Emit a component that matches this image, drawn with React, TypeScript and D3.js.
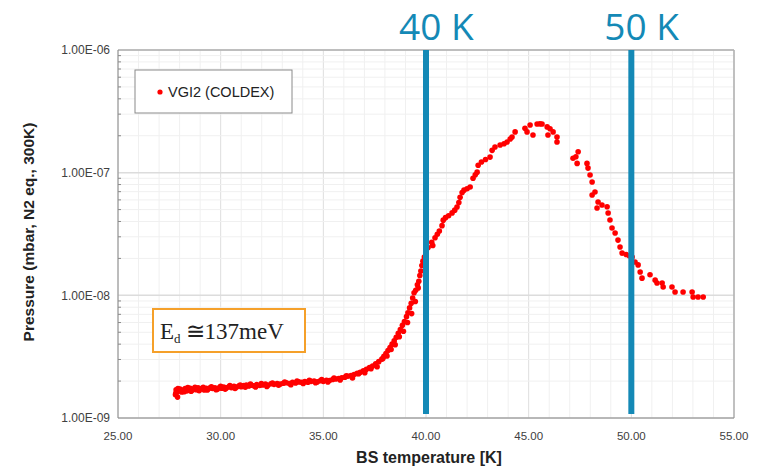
import React from "react";
import * as d3 from "d3";

// VGI2 (COLDEX) readings: beam-screen temperature [K] and pressure [mbar, N2 eq.]
const temperatureK: number[] = [
  27.80, 27.83, 27.86, 27.90, 27.95, 28.02, 28.10, 28.18, 28.27, 28.35,
  28.44, 28.52, 28.60, 28.70, 28.80, 28.90, 29.00, 29.10, 29.20, 29.30,
  29.40, 29.50, 29.60, 29.72, 29.85, 29.95, 30.05, 30.15, 30.28, 30.40,
  30.52, 30.65, 30.78, 30.90, 31.00, 31.12, 31.25, 31.38, 31.50, 31.62,
  31.75, 31.90, 32.05, 32.18, 32.30, 32.45, 32.60, 32.75, 32.90, 33.05,
  33.20, 33.35, 33.50, 33.65, 33.80, 33.95, 34.10, 34.25, 34.40, 34.55,
  34.70, 34.85, 35.00, 35.15, 35.30, 35.45, 35.60, 35.75, 35.90, 36.05,
  36.20, 36.35, 36.50, 36.65, 36.80, 36.95, 37.10, 37.25, 37.40, 37.55,
  37.70, 37.85, 37.95, 38.05, 38.15, 38.25, 38.35, 38.45, 38.55, 38.65,
  38.75, 38.85, 38.95, 39.05, 39.12, 39.20, 39.28, 39.35, 39.42, 39.50,
  39.58, 39.65, 39.70, 39.75, 39.80, 39.85, 39.92, 40.00, 40.10, 40.28,
  40.33, 40.44, 40.55, 40.65, 40.78, 40.84, 40.95, 41.10, 41.27, 41.40,
  41.51, 41.60, 41.66, 41.76, 41.85, 42.00, 42.15, 42.29, 42.40, 42.49,
  42.54, 42.70, 42.90, 43.12, 43.22, 43.36, 43.61, 43.80, 43.95, 44.10,
  44.19, 44.34, 44.82, 44.92, 45.07, 45.21, 45.41, 45.55, 45.65, 45.94,
  45.90, 46.04, 46.19, 46.38, 46.38, 47.16, 47.36, 47.41, 47.30, 47.84,
  47.89, 47.99, 48.09, 48.23, 48.09, 48.38, 48.57, 48.33, 48.82, 48.87,
  48.96, 49.06, 49.21, 49.35, 49.45, 49.55, 49.75, 49.90, 50.04, 50.18,
  50.33, 50.43, 50.52, 50.91, 51.16, 51.25, 51.50, 51.55, 51.98, 52.13,
  52.52, 52.96, 53.01, 53.25, 53.50,
  // second sweep through the low-temperature plateau and the rise
  27.82, 27.92, 28.06, 28.22, 28.40, 28.56, 28.75, 28.95, 29.15, 29.35,
  29.55, 29.78, 30.00, 30.22, 30.45, 30.70, 30.95, 31.20, 31.45, 31.70,
  31.98, 32.25, 32.52, 32.82, 33.12, 33.42, 33.72, 34.02, 34.32, 34.62,
  34.92, 35.22, 35.52, 35.82, 36.12, 36.42, 36.72, 37.02, 37.32, 37.62,
  37.90, 38.10, 38.30, 38.50, 38.70, 38.90, 39.10, 39.30, 39.48, 39.62,
];

const pressureMbar: number[] = [
  1.55e-9, 1.70e-9, 1.62e-9, 1.48e-9, 1.66e-9, 1.72e-9, 1.63e-9, 1.69e-9, 1.74e-9, 1.66e-9,
  1.71e-9, 1.75e-9, 1.68e-9, 1.73e-9, 1.70e-9, 1.76e-9, 1.72e-9, 1.74e-9, 1.69e-9, 1.75e-9,
  1.73e-9, 1.77e-9, 1.74e-9, 1.76e-9, 1.72e-9, 1.78e-9, 1.75e-9, 1.79e-9, 1.76e-9, 1.80e-9,
  1.77e-9, 1.81e-9, 1.79e-9, 1.83e-9, 1.80e-9, 1.84e-9, 1.86e-9, 1.82e-9, 1.85e-9, 1.83e-9,
  1.87e-9, 1.84e-9, 1.86e-9, 1.89e-9, 1.85e-9, 1.90e-9, 1.88e-9, 1.91e-9, 1.89e-9, 1.92e-9,
  1.94e-9, 1.91e-9, 1.95e-9, 1.93e-9, 1.97e-9, 1.95e-9, 1.98e-9, 1.96e-9, 1.99e-9, 2.00e-9,
  1.97e-9, 2.01e-9, 1.99e-9, 2.03e-9, 2.02e-9, 2.06e-9, 2.08e-9, 2.10e-9, 2.13e-9, 2.15e-9,
  2.19e-9, 2.22e-9, 2.26e-9, 2.31e-9, 2.36e-9, 2.42e-9, 2.50e-9, 2.58e-9, 2.65e-9, 2.76e-9,
  2.88e-9, 3.02e-9, 3.18e-9, 3.35e-9, 3.55e-9, 3.75e-9, 4.00e-9, 4.25e-9, 4.55e-9, 4.90e-9,
  5.25e-9, 5.70e-9, 6.10e-9, 6.70e-9, 7.20e-9, 7.90e-9, 8.60e-9, 9.50e-9, 1.05e-8, 1.10e-8,
  1.22e-8, 1.30e-8, 1.45e-8, 1.58e-8, 1.75e-8, 1.90e-8, 2.05e-8, 2.25e-8, 2.45e-8, 2.70e-8,
  2.55e-8, 2.95e-8, 3.15e-8, 3.35e-8, 3.70e-8, 4.10e-8, 4.30e-8, 4.45e-8, 4.70e-8, 4.95e-8,
  5.25e-8, 5.70e-8, 6.30e-8, 6.90e-8, 7.20e-8, 7.40e-8, 7.65e-8, 9.00e-8, 9.60e-8, 1.01e-7,
  1.15e-7, 1.22e-7, 1.28e-7, 1.34e-7, 1.52e-7, 1.62e-7, 1.68e-7, 1.72e-7, 1.78e-7, 1.88e-7,
  1.95e-7, 2.15e-7, 2.30e-7, 2.15e-7, 2.45e-7, 2.03e-7, 2.49e-7, 2.50e-7, 2.49e-7, 2.03e-7,
  2.36e-7, 2.28e-7, 2.15e-7, 1.95e-7, 1.78e-7, 1.31e-7, 1.19e-7, 1.48e-7, 1.35e-7, 1.19e-7,
  1.09e-7, 9.57e-8, 8.39e-8, 6.96e-8, 6.58e-8, 5.77e-8, 5.45e-8, 5.15e-8, 5.28e-8, 4.69e-8,
  4.11e-8, 3.54e-8, 3.22e-8, 2.82e-8, 2.48e-8, 2.21e-8, 2.15e-8, 2.10e-8, 2.05e-8, 1.87e-8,
  1.77e-8, 1.55e-8, 1.38e-8, 1.47e-8, 1.33e-8, 1.26e-8, 1.26e-8, 1.17e-8, 1.17e-8, 1.064e-8,
  1.064e-8, 1.064e-8, 9.69e-9, 9.69e-9, 9.69e-9,
  1.60e-9, 1.74e-9, 1.67e-9, 1.64e-9, 1.77e-9, 1.65e-9, 1.78e-9, 1.67e-9, 1.78e-9, 1.69e-9,
  1.80e-9, 1.70e-9, 1.81e-9, 1.72e-9, 1.84e-9, 1.74e-9, 1.86e-9, 1.78e-9, 1.89e-9, 1.79e-9,
  1.91e-9, 1.81e-9, 1.93e-9, 1.85e-9, 1.96e-9, 1.87e-9, 2.00e-9, 1.91e-9, 2.03e-9, 1.94e-9,
  2.06e-9, 1.97e-9, 2.12e-9, 2.04e-9, 2.21e-9, 2.12e-9, 2.30e-9, 2.34e-9, 2.52e-9, 2.62e-9,
  3.05e-9, 3.20e-9, 3.62e-9, 3.95e-9, 4.60e-9, 5.10e-9, 6.00e-9, 7.10e-9, 8.90e-9, 1.15e-8,
];

const xTicks: number[] = [25, 30, 35, 40, 45, 50, 55];
const yDecades: number[] = [1e-9, 1e-8, 1e-7, 1e-6];
const markerTemps: number[] = [40, 50];
const markerLabels: string[] = ["40 K", "50 K"];

const W = 758;
const H = 468;
const plot = { left: 118, right: 734, top: 50, bottom: 418 };
const BLUE = "#1489b6";
const SANS = "'Liberation Sans', Arial, sans-serif";

export default function App() {
  const x = d3.scaleLinear().domain([25, 55]).range([plot.left, plot.right]);
  const y = d3.scaleLog().domain([1e-9, 1e-6]).range([plot.bottom, plot.top]);

  const minorX = d3.range(25, 56, 1);
  const minorY: number[] = [];
  for (let e = -9; e < -6; e++) {
    for (let m = 2; m <= 9; m++) minorY.push(m * Math.pow(10, e));
  }

  return (
    <svg
      width={W}
      height={H}
      style={{ position: "absolute", left: 0, top: 0, background: "#fff" }}
    >
      {/* grid */}
      {minorX.map((t) => (
        <line
          key={"gx" + t}
          x1={x(t)}
          x2={x(t)}
          y1={plot.top}
          y2={plot.bottom}
          stroke={t % 5 === 0 ? "#dedede" : "#f0f0f0"}
          strokeWidth={1}
        />
      ))}
      {minorY.map((v, i) => (
        <line
          key={"gy" + i}
          x1={plot.left}
          x2={plot.right}
          y1={y(v)}
          y2={y(v)}
          stroke="#f0f0f0"
          strokeWidth={1}
        />
      ))}
      {yDecades.map((v) => (
        <line
          key={"gd" + v}
          x1={plot.left}
          x2={plot.right}
          y1={y(v)}
          y2={y(v)}
          stroke="#dcdcdc"
          strokeWidth={1.5}
        />
      ))}

      {/* frame */}
      <line x1={plot.left} x2={plot.right} y1={plot.top} y2={plot.top} stroke="#b0b0b0" strokeWidth={1.5} />
      <line x1={plot.right} x2={plot.right} y1={plot.top} y2={plot.bottom} stroke="#b0b0b0" strokeWidth={1.5} />
      <line x1={plot.left} x2={plot.left} y1={plot.top} y2={plot.bottom} stroke="#8a8a8a" strokeWidth={1} />
      <line x1={plot.left} x2={plot.right} y1={plot.bottom} y2={plot.bottom} stroke="#8a8a8a" strokeWidth={1} />
      {minorY.map((v, i) => (
        <line key={"ty" + i} x1={plot.left} x2={plot.left + 3} y1={y(v)} y2={y(v)} stroke="#8a8a8a" />
      ))}

      {/* tick labels */}
      {yDecades.map((v) => (
        <text
          key={"yl" + v}
          x={plot.left - 8}
          y={y(v)}
          dy="0.35em"
          textAnchor="end"
          fontFamily={SANS}
          fontSize={12}
          fill="#404040"
        >
          {v.toExponential(2).toUpperCase().replace("E-", "E-0")}
        </text>
      ))}
      {xTicks.map((t) => (
        <text
          key={"xl" + t}
          x={x(t)}
          y={plot.bottom + 22}
          textAnchor="middle"
          fontFamily={SANS}
          fontSize={11.5}
          fill="#404040"
        >
          {t.toFixed(2)}
        </text>
      ))}

      {/* axis titles */}
      <text
        x={(plot.left + plot.right) / 2 + 3}
        y={463}
        textAnchor="middle"
        fontFamily={SANS}
        fontWeight="bold"
        fontSize={16}
        fill="#222"
      >
        BS temperature [K]
      </text>
      <text
        transform={`translate(34, ${(plot.top + plot.bottom) / 2 - 2}) rotate(-90)`}
        textAnchor="middle"
        fontFamily={SANS}
        fontWeight="bold"
        fontSize={15.5}
        fill="#222"
      >
        Pressure (mbar, N2 eq., 300K)
      </text>

      {/* data */}
      {temperatureK.map((t, i) => (
        <circle key={"p" + i} cx={x(t)} cy={y(pressureMbar[i])} r={2.8} fill="#ff0000" />
      ))}

      {/* temperature markers */}
      {markerTemps.map((t, i) => (
        <g key={"m" + t}>
          <line x1={x(t)} x2={x(t)} y1={plot.top} y2={plot.bottom - 4} stroke={BLUE} strokeWidth={6} />
          <text
            x={x(t) - 27}
            y={40}
            fontFamily="'Open Sans', sans-serif"
            fontSize={37}
            fill={BLUE}
          >
            {markerLabels[i]}
          </text>
        </g>
      ))}

      {/* legend */}
      <rect x={135} y={70} width={157} height={43} fill="#fff" stroke="#8a8a8a" strokeWidth={1} />
      <circle cx={160} cy={92} r={2.6} fill="#ff0000" />
      <text x={168} y={97} fontFamily={SANS} fontSize={14.5} fill="#222">
        VGI2 (COLDEX)
      </text>

      {/* activation energy annotation */}
      <rect x={153} y={309} width={152} height={43} fill="#fff" stroke="#f5a02a" strokeWidth={2} />
      <text x={160} y={339} fontFamily="'Liberation Serif', 'Times New Roman', serif" fontSize={23} fill="#222">
        E
        <tspan fontSize={13} dy={4}>d</tspan>
        <tspan dy={-4} dx={5}>≅137meV</tspan>
      </text>
    </svg>
  );
}
